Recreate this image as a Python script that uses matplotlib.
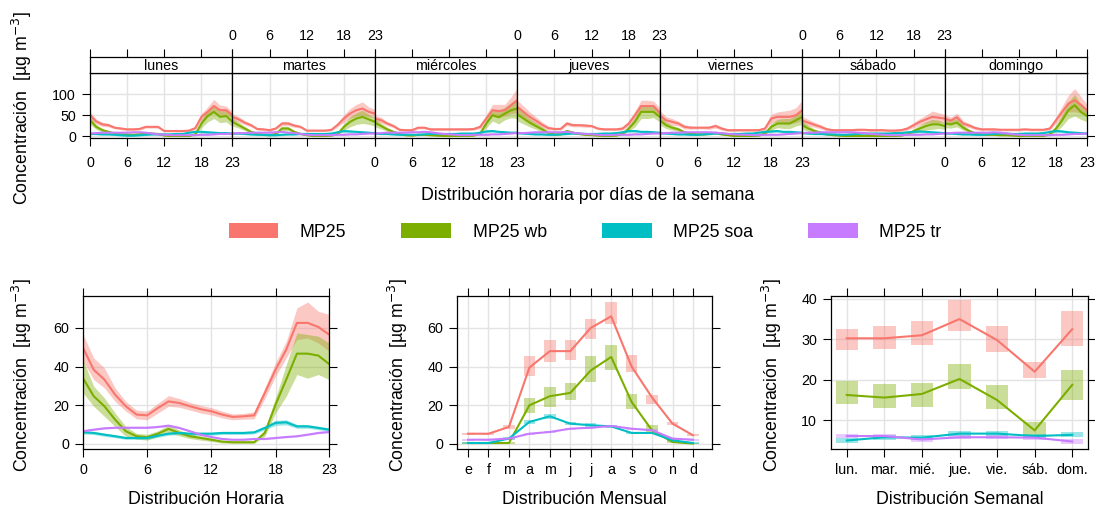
import matplotlib
matplotlib.use('Agg')
import matplotlib.pyplot as plt
from matplotlib.patches import Patch
import numpy as np

plt.rcParams['font.family'] = ['Liberation Sans', 'DejaVu Sans']

# ---------------- data ----------------
series = ['MP25', 'MP25 wb', 'MP25 soa', 'MP25 tr']
colors = ['#F8766D', '#7CAE00', '#00BFC4', '#C77CFF']
dias = ['lunes', 'martes', 'miércoles', 'jueves', 'viernes', 'sábado', 'domingo']
dias_cortos = ['lun.', 'mar.', 'mié.', 'jue.', 'vie.', 'sáb.', 'dom.']
meses = ['e', 'f', 'm', 'a', 'm', 'j', 'j', 'a', 's', 'o', 'n', 'd']
horas = list(range(24))

# hourly values by weekday (top panel)
mp25_dia = [
    [50,35,28,26,20,18,16,16,17,22,22,22,12,12,12,12,13,19,46,58,72,62,62,50],
    [46,40,32,26,17,16,14,18,30,30,25,22,13,13,13,13,15,27,42,54,62,66,58,54],
    [42,38,30,24,15,14,14,20,20,16,16,16,16,16,16,16,17,22,42,62,60,62,74,86],
    [70,58,46,37,27,19,17,17,30,26,26,25,24,18,16,16,16,18,30,50,72,72,72,56],
    [50,38,34,30,22,20,20,20,20,24,18,14,14,14,14,14,14,18,42,46,46,46,50,62],
    [37,32,27,22,16,14,14,14,14,15,15,14,14,14,13,13,14,18,26,34,40,46,44,42],
    [42,37,45,30,25,19,16,16,16,15,15,15,15,16,15,15,15,18,38,58,78,86,75,62],
]
mp25_dia_hw = [
    [8,6,5,4,3,3,3,3,3,3,3,3,2,2,2,2,3,4,8,12,16,12,10,8],
    [8,7,5,4,3,3,3,3,5,5,4,3,2,2,2,2,3,5,9,12,14,16,12,10],
    [8,7,5,4,3,3,3,3,3,3,3,3,3,3,3,3,3,5,10,14,16,14,20,30],
    [16,14,12,9,7,5,3,3,5,4,4,4,3,3,3,3,3,4,6,10,14,14,12,12],
    [12,9,8,6,5,4,3,3,4,5,4,3,3,3,3,3,3,4,10,12,14,16,18,24],
    [10,8,6,5,4,3,3,3,3,3,3,3,3,3,3,3,3,4,6,8,10,14,12,10],
    [10,8,10,7,5,4,3,3,3,3,3,3,3,3,3,3,3,4,8,14,20,28,20,14],
]
wb_dia = [
    [38,22,14,10,6,4,3,3,4,6,6,5,1,0,0,0,0,4,30,48,58,46,48,34],
    [34,26,18,10,6,3,2,5,18,18,10,5,2,0,0,0,1,5,22,34,42,46,40,34],
    [32,24,16,10,5,2,1,3,3,2,1,0,0,0,0,0,1,6,30,50,45,54,62,66],
    [52,42,32,24,16,8,4,4,12,8,5,3,2,1,0,0,1,5,18,34,58,58,58,46],
    [38,26,20,16,9,6,4,4,5,8,4,2,0,0,0,0,1,6,22,30,30,30,38,46],
    [26,18,12,8,4,2,1,0,0,0,0,0,0,0,0,0,1,4,12,18,24,28,28,24],
    [30,28,32,20,12,6,4,3,3,2,2,1,0,0,0,0,0,4,18,38,62,74,58,48],
]
wb_dia_hw = [
    [10,6,4,3,2,2,2,2,2,2,2,2,1,1,1,1,1,2,10,14,16,14,14,12],
    [10,7,5,3,2,2,2,2,6,5,3,2,1,1,1,1,1,2,8,12,14,16,12,10],
    [10,7,5,3,2,2,1,2,2,2,1,1,1,1,1,1,1,3,10,14,16,15,18,24],
    [16,13,10,8,6,4,2,2,4,3,2,2,1,1,1,1,1,2,6,12,16,16,14,12],
    [12,8,6,5,3,3,2,2,2,3,2,1,1,1,1,1,1,3,8,10,12,12,14,18],
    [10,7,5,3,2,1,1,1,1,1,1,1,1,1,1,1,1,2,5,8,10,12,10,8],
    [10,9,10,6,4,3,2,2,2,2,2,1,1,1,1,1,1,2,8,14,20,26,18,14],
]
soa_dia = [
    [5,5,4,4,3,2,1,1,2,3,4,4,4,4,5,5,8,10,10,9,8,7,7,6],
    [6,6,5,4,3,3,2,2,3,4,4,5,5,5,5,5,6,9,12,11,10,9,8,7],
    [6,5,5,4,3,3,3,3,4,5,5,5,5,5,6,6,6,8,11,12,10,9,8,8],
    [7,6,5,4,4,3,3,4,5,6,6,5,5,5,6,6,7,9,12,12,10,10,9,8],
    [7,6,5,4,4,3,3,4,5,6,6,5,5,5,6,6,8,10,11,12,10,10,9,8],
    [7,6,5,5,4,4,3,3,4,5,6,6,6,6,6,7,7,9,10,11,10,9,8,7],
    [6,6,5,4,4,3,3,4,5,6,6,5,5,6,6,6,7,10,12,11,9,8,7,6],
]
soa_dia_hw = [2,2,2,2,2,2,2,2,2,2,2,2,2,2,2,2,2,2,3,3,2,2,2,2]
tr_dia = [
    [6,7,8,8,8,8,8,9,9,8,6,4,3,2,2,2,2,2,3,3,4,5,5,6],
    [6,7,7,8,8,8,8,9,10,8,7,5,3,2,2,2,2,3,3,4,4,5,6,6],
    [6,7,8,8,8,8,9,9,10,9,7,5,4,3,2,2,3,3,3,4,4,5,6,7],
    [7,7,8,9,9,9,9,9,10,8,6,5,4,3,2,2,3,3,3,4,4,5,6,6],
    [6,7,8,8,9,9,9,9,9,8,7,5,4,3,3,2,2,3,3,3,4,5,6,7],
    [7,8,8,9,9,9,9,9,9,8,7,5,4,3,2,2,2,3,3,3,4,4,5,6],
    [6,7,8,8,8,8,8,8,9,8,6,4,3,2,2,2,2,2,3,3,4,5,5,6],
]
tr_dia_hw = [1,1,1,1,1,1,1,1,1,1,1,1,1,1,1,1,1,1,1,1,1,1,1,1]

# hourly (bottom-left)
mp25_h = [49.7,38.4,33.3,25.5,19.5,15.2,14.8,18.6,22,21.2,19.5,18,16.9,15.2,14,14.3,14.8,26.4,38.4,48.8,62.6,62.6,60.5,56.6]
mp25_h_lo = [42.8,33.3,29,22,17,13,12.5,16,19.5,19,17.5,16,15,13.5,12.5,12.8,13,23.5,35,44.5,54,54.8,52.2,48]
mp25_h_hi = [56.6,44.5,39.3,29,22,17.5,17,21,25,23.5,21.5,20,18.8,17,15.5,15.8,16.6,29,42,53,70.3,73.4,68.6,67]
wb_h = [34,24.7,19.5,12.6,6.6,4,3.5,5.3,7.8,5.7,4,3.1,2.2,1.2,0.9,0.9,0.9,5.7,20.3,33.3,46.7,46.7,45.7,41.4]
wb_h_lo = [26.4,19.5,14.3,9,4,2.5,2,3.8,6,4.2,2.8,2,1.3,0.5,0.3,0.3,0.3,4,16,24.7,35.9,34,35.9,33.3]
wb_h_hi = [43.6,29.8,23.8,16,9,5.5,5,6.8,9.8,7.2,5.2,4.2,3.1,2,1.5,1.5,1.5,7.5,23.8,41,57.4,56.6,55.7,52.2]
soa_h = [6,5.7,4.8,4,3.1,3.1,3.1,4.3,5.3,5.7,5.3,5.3,5.3,5.7,5.7,5.7,6,8.3,10.9,11.2,9.1,9.1,8.3,7.4]
soa_h_lo = [5.2,4.9,4,3.2,2.4,2.4,2.4,3.5,4.5,4.9,4.5,4.5,4.5,4.9,4.9,4.9,5.2,7.3,9.6,9.9,8.1,8.1,7.4,6.5]
soa_h_hi = [6.8,6.5,5.6,4.8,3.8,3.8,3.8,5.1,6.1,6.5,6.1,6.1,6.1,6.5,6.5,6.5,6.8,9.3,12.2,12.5,10.1,10.1,9.2,8.3]
tr_h = [6.6,7.4,8.1,8.4,8.4,8.4,8.4,8.8,9.5,8.3,6.6,4.8,3.6,2.6,2.2,2.2,2.6,2.6,3.1,3.6,4,4.8,5.7,6.2]
tr_h_lo = [6.2,7,7.7,8,8,8,8,8.4,9,7.9,6.2,4.4,3.2,2.2,1.8,1.8,2.2,2.2,2.7,3.2,3.6,4.4,5.3,5.8]
tr_h_hi = [7,7.8,8.5,8.8,8.8,8.8,8.8,9.2,10,8.7,7,5.2,4,3,2.6,2.6,3,3,3.5,4,4.4,5.2,6.1,6.6]

# monthly (bottom-middle)
mp25_m = [5.3,5.3,8.8,39.5,48,48,60,66,40,24,10.5,4.5]
mp25_m_lo = [4.8,4.8,7.8,35.0,42.4,43.6,54.5,62.2,37.2,20.9,9.7,4.0]
mp25_m_hi = [5.8,5.8,9.8,45.3,53.6,53.9,64.8,73.4,45.9,25.2,11.4,5.0]
wb_m = [0.5,0.5,0.5,20,24.7,26.4,38,45,21.7,7,1,0.2]
wb_m_lo = [0.2,0.2,0.2,16,19.1,22.6,32,38,18.3,5.3,0.5,0.0]
wb_m_hi = [0.8,0.8,0.8,23.8,29.5,31.6,45.3,51,26,9.7,2.5,0.6]
soa_m = [0.5,0.5,2.8,11.4,14.3,10.5,9.7,9.1,5.7,5.7,1.9,0.5]
soa_m_lo = [0.1,0.1,2.2,10.4,13.0,9.6,8.8,8.3,5.0,5.0,1.3,0.1]
soa_m_hi = [0.9,0.9,3.4,12.4,15.6,11.4,10.6,9.9,6.4,6.4,2.5,0.9]
tr_m = [2.2,2.2,2.8,5.3,6.2,7.9,8.4,9.3,7.9,7.1,2.8,2.2]
tr_m_lo = [1.7,1.7,2.3,4.8,5.7,7.4,7.9,8.7,7.4,6.6,2.3,1.7]
tr_m_hi = [2.7,2.7,3.3,5.8,6.7,8.4,8.9,9.9,8.4,7.6,3.3,2.7]

# weekday (bottom-right)
mp25_w = [30.25,30.25,31,35,29.8,22,32.5]
mp25_w_lo = [27.25,27.5,28.6,32.1,26.9,20.4,28.3]
mp25_w_hi = [32.5,33.2,34.6,39.6,33.2,24.4,37.1]
wb_w = [16.25,15.6,16.5,20.2,15,7.5,18.75]
wb_w_lo = [13.9,13.1,13.3,17.7,12.75,5.8,15]
wb_w_hi = [19.75,18.9,19.2,23.9,18.6,9.6,22.3]
soa_w = [5,5.8,5.7,6.7,6.7,6.1,6.4]
soa_w_lo = [4.4,5.2,5.1,6.1,6.1,5.5,5.8]
soa_w_hi = [5.6,6.4,6.3,7.3,7.3,6.7,7.0]
tr_w = [6.1,6.1,5.25,5.8,5.8,5.7,4.75]
tr_w_lo = [5.6,5.6,4.75,5.3,5.3,5.2,4.25]
tr_w_hi = [6.6,6.6,5.75,6.3,6.3,6.2,5.25]

# ---------------- style ----------------
W, H = 1095, 515
fig = plt.figure(figsize=(W / 100, H / 100), dpi=100)
TICK_FS = 10.3
LAB_FS = 12.8
GRID_C = '#E3E3E3'
TL = 5.8
ALPHA = 0.4
LW = 1.5
ylab = 'Concentración  [µg m$^{-3}$]'


def px_axes(l, t, r, b):
    return fig.add_axes([l / W, 1 - b / H, (r - l) / W, (b - t) / H])


def style(ax):
    for s in ax.spines.values():
        s.set_linewidth(0.9)
        s.set_color('black')
    ax.tick_params(direction='out', length=TL, width=0.8, labelsize=TICK_FS,
                   colors='black', pad=4.3)
    ax.set_axisbelow(True)


def draw_bands_lines(ax, x, means, los, his):
    for m, lo, hi, c in zip(means, los, his, colors):
        ax.fill_between(x, lo, hi, color=c, alpha=ALPHA, lw=0)
        ax.plot(x, m, color=c, lw=LW)


def draw_rects_lines(ax, x, means, los, his, width):
    for m, lo, hi, c in zip(means, los, his, colors):
        ax.bar(x, np.array(hi) - np.array(lo), bottom=lo, width=width,
               color=c, alpha=ALPHA, lw=0)
        ax.plot(x, m, color=c, lw=LW)


# ---------------- top panel ----------------
day_x = np.linspace(90, 1087, 8)
top_series = [mp25_dia, wb_dia, soa_dia, tr_dia]
top_hw = [mp25_dia_hw, wb_dia_hw, [soa_dia_hw] * 7, [tr_dia_hw] * 7]
for d in range(7):
    ax = px_axes(day_x[d], 73, day_x[d + 1], 138)
    style(ax)
    ax.set_xlim(0, 23)
    ax.set_ylim(-4.8, 151.4)
    for g in (6, 12, 18):
        ax.axvline(g, color=GRID_C, lw=1, zorder=0)
    for g in (0, 50, 100):
        ax.axhline(g, color=GRID_C, lw=1, zorder=0)
    means = [np.array(s[d]) for s in top_series]
    hws = [np.array(h[d]) for h in top_hw]
    draw_bands_lines(ax, horas, means, [m - h for m, h in zip(means, hws)],
                     [m + h for m, h in zip(means, hws)])
    ax.set_xticks([0, 6, 12, 18, 23])
    ax.tick_params(axis='x', top=False, bottom=True,
                   labelbottom=(d % 2 == 0), pad=7)
    ax.set_yticks([0, 50, 100])
    if d == 0:
        ax.tick_params(axis='y', left=True, right=False, labelleft=True)
    elif d == 6:
        ax.tick_params(axis='y', left=False, right=True, labelleft=False)
    else:
        ax.tick_params(axis='y', left=False, right=False, labelleft=False)
    # strip
    sx = px_axes(day_x[d], 57, day_x[d + 1], 73)
    style(sx)
    sx.set_xlim(0, 23)
    sx.set_ylim(0, 1)
    sx.set_yticks([])
    sx.set_xticks([0, 6, 12, 18, 23])
    sx.tick_params(axis='x', top=True, bottom=False, labelbottom=False,
                   labeltop=(d % 2 == 1), pad=4)
    sx.text(11.5, 0.45, dias[d], ha='center', va='center', fontsize=TICK_FS)

fig.text(22 / W, 1 - 108 / H, ylab, rotation=90, ha='center', va='center',
         fontsize=LAB_FS)
fig.text(588 / W, 1 - 195 / H, 'Distribución horaria por días de la semana',
         ha='center', va='center', fontsize=LAB_FS)

# legend
handles = [Patch(facecolor=c, edgecolor='none') for c in colors]
fig.legend(handles, series, loc='center', bbox_to_anchor=(585 / W, 1 - 232 / H),
           ncol=4, frameon=False, fontsize=LAB_FS, handlelength=2.8,
           handleheight=0.95, handletextpad=1.2, columnspacing=3.1)

# ---------------- bottom-left: hourly ----------------
ax = px_axes(83, 296, 329, 449)
style(ax)
ax.set_xlim(0, 23)
ax.set_ylim(-2.6, 76.5)
ax.set_xticks([0, 6, 12, 18, 23])
ax.set_yticks([0, 20, 40, 60])
ax.grid(True, color=GRID_C, lw=1)
ax.tick_params(top=True, right=True)
draw_bands_lines(ax, horas, [mp25_h, wb_h, soa_h, tr_h],
                 [mp25_h_lo, wb_h_lo, soa_h_lo, tr_h_lo],
                 [mp25_h_hi, wb_h_hi, soa_h_hi, tr_h_hi])
ax.set_xlabel('Distribución Horaria', fontsize=LAB_FS, labelpad=10)
fig.text(22 / W, 1 - 375 / H, ylab, rotation=90, ha='center', va='center',
         fontsize=LAB_FS)

# ---------------- bottom-middle: monthly ----------------
ax = px_axes(457, 296, 712, 449)
style(ax)
mx = np.arange(1, 13)
ax.set_xlim(0.46, 12.93)
ax.set_ylim(-2.6, 76.5)
ax.set_xticks(mx)
ax.set_xticklabels(meses)
ax.set_yticks([0, 20, 40, 60])
ax.grid(True, color=GRID_C, lw=1)
ax.tick_params(top=True, right=True)
draw_rects_lines(ax, mx, [mp25_m, wb_m, soa_m, tr_m],
                 [mp25_m_lo, wb_m_lo, soa_m_lo, tr_m_lo],
                 [mp25_m_hi, wb_m_hi, soa_m_hi, tr_m_hi], 0.56)
ax.set_xlabel('Distribución Mensual', fontsize=LAB_FS, labelpad=10)
fig.text(398 / W, 1 - 375 / H, ylab, rotation=90, ha='center', va='center',
         fontsize=LAB_FS)

# ---------------- bottom-right: weekday ----------------
ax = px_axes(831, 296, 1088, 449)
style(ax)
wx = np.arange(1, 8)
ax.set_xlim(0.58, 7.42)
ax.set_ylim(2.9, 40.7)
ax.set_xticks(wx)
ax.set_xticklabels(dias_cortos)
ax.set_yticks([10, 20, 30, 40])
ax.grid(True, color=GRID_C, lw=1)
ax.tick_params(top=True, right=True)
draw_rects_lines(ax, wx, [mp25_w, wb_w, soa_w, tr_w],
                 [mp25_w_lo, wb_w_lo, soa_w_lo, tr_w_lo],
                 [mp25_w_hi, wb_w_hi, soa_w_hi, tr_w_hi], 0.6)
ax.set_xlabel('Distribución Semanal', fontsize=LAB_FS, labelpad=10)
fig.text(772 / W, 1 - 375 / H, ylab, rotation=90, ha='center', va='center',
         fontsize=LAB_FS)

fig.savefig('out.png', dpi=100)
